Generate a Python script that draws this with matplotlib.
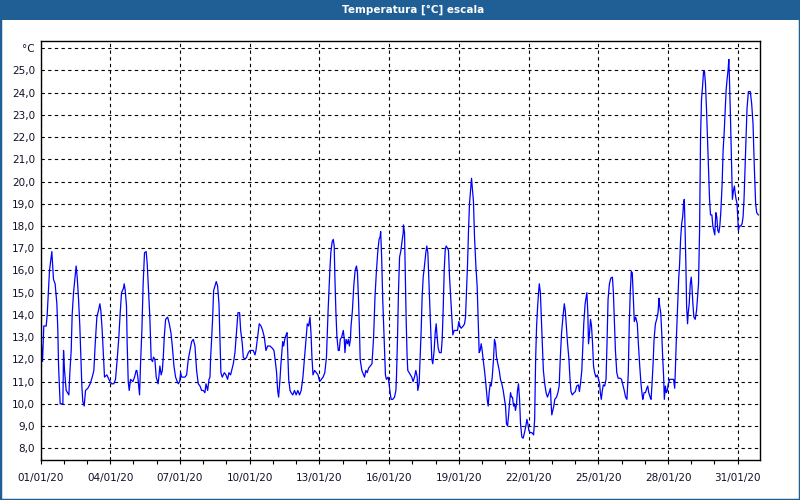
import matplotlib
matplotlib.use("Agg")
import matplotlib.pyplot as plt
import matplotlib.dates as mdates
from matplotlib.patches import Rectangle
import numpy as np
import pandas as pd

# hours since 01/01/20 00:00 and temperature (°C)
hours = [
    0, 2.1, 3.4, 5.9, 6.9, 9.3, 11.7, 13.4, 15.1, 16.9, 17.9, 18.6, 19.3, 20.3, 23.1, 23.8,
    24.8, 26.5, 29.3, 30.3, 31.7, 32.7, 34.1, 36.8, 37.9, 39.3, 40.6, 41.3, 42.0, 42.7, 43.7, 45.1,
    46.5, 48.9, 51.3, 53.4, 55.1, 56.5, 58.2, 59.9, 61.3, 62.3, 63.7, 65.1, 66.1, 68.5, 70.6, 73.0,
    75.7, 77.5, 79.2, 80.9, 82.3, 83.7, 85.7, 86.4, 87.5, 88.8, 89.5, 90.6, 91.6, 93.0, 95.4, 97.1,
    98.8, 99.5, 100.5, 102.3, 103.3, 104.7, 106.0, 107.4, 109.1, 110.2, 111.2, 112.9, 114.3, 115.7,
    116.7, 118.1, 119.5, 121.5, 123.3, 124.6,
    125.8, 126.8, 127.8, 129.2, 131.3, 133.0, 134.7, 136.1, 137.8, 139.5, 141.2, 142.3, 143.7,
    144.7, 145.7, 147.4, 149.2, 150.9, 152.6, 154.3, 156.1, 157.8, 159.5, 161.2, 162.9, 164.7,
    166.4, 168.1, 169.8, 170.9, 172.6, 174.0, 175.0, 175.7, 176.7, 177.7, 178.8, 180.2, 181.5,
    182.9, 184.3, 185.3, 186.3, 187.7, 189.8, 191.5, 193.2, 194.6, 196.3, 197.4, 199.1, 200.8,
    202.5, 203.9, 205.6, 206.7, 208.4, 209.4, 211.1, 212.9, 214.6, 216.3, 218.0, 219.7, 221.5,
    222.5, 224.2, 225.9, 227.7, 229.4, 231.1, 232.8, 234.6, 237.0, 239.4, 241.1, 242.8, 243.8,
    244.9, 245.9, 247.3, 248.3, 249.4,
    250.1, 251.1, 252.2, 253.6, 254.6, 255.3, 256.3, 257.7, 258.8, 260.5, 262.3, 264.0, 265.7,
    267.5, 269.2, 271.0, 272.7, 274.4, 275.5, 276.9, 278.3, 279.3, 280.3, 281.4, 283.1, 284.9,
    286.6, 288.3, 290.1, 291.8, 293.6, 295.3, 297.0, 298.8, 299.8, 301.2, 302.3, 303.3, 304.0,
    305.0, 306.1, 307.5, 308.5, 309.6, 311.0, 312.7, 313.7, 314.4, 315.5, 316.9, 317.9, 319.0,
    320.0, 320.7, 322.1, 323.5, 324.9, 326.3, 327.3, 328.3, 329.4, 330.1, 331.8, 333.6, 334.6,
    336.0, 337.4, 338.8, 340.5, 342.3, 344.0, 345.4, 346.8, 348.2, 349.6, 350.6, 351.3, 352.3,
    353.4, 354.8, 356.2, 357.2, 359.0, 360.0, 361.0, 362.1, 363.8, 365.6, 367.0, 367.6, 368.7,
    369.7, 370.8, 372.2, 373.6, 374.6,
    374.8, 375.9, 376.6, 377.6, 378.6, 379.3, 380.7, 382.1, 383.4, 384.8, 386.2, 387.6, 389.0,
    389.6, 391.0, 392.0, 393.1, 394.1, 395.2, 396.5, 397.9, 398.9, 400.0, 401.0, 402.0, 403.1,
    404.1, 405.1, 406.5, 407.6, 408.6, 409.6, 410.7, 412.0, 413.8, 414.8, 415.8, 416.9, 417.9,
    418.9, 420.3, 421.3, 422.4, 423.7, 424.8, 425.8, 427.2, 428.9, 430.6, 432.0, 433.0, 434.4,
    436.5, 437.9, 438.9, 439.9, 441.0, 442.0, 443.0, 444.4, 445.1, 446.1, 447.1, 448.2, 449.6,
    450.9, 452.0, 453.0, 454.0, 455.1, 456.1, 457.1, 458.5, 459.9, 461.3, 462.3, 463.3, 464.4,
    465.4, 466.5, 467.8, 468.8, 469.9, 470.9, 472.3, 473.7, 475.0, 476.4, 477.8, 479.2, 480.2,
    481.2, 482.3, 483.3, 484.3, 485.4, 486.4, 487.4, 488.5, 489.5, 490.5, 491.6, 492.6, 493.6,
    494.7, 495.7, 497.1,
    498.4, 499.8, 501.2, 502.3, 503.3, 504.3, 505.7, 507.5, 509.2, 510.3, 511.3, 512.3, 513.4,
    514.4, 515.1, 516.2, 517.2, 518.3, 519.3, 520.7, 522.1, 523.5, 525.2, 526.6, 527.3, 528.0,
    529.0, 530.1, 531.1, 532.9, 534.3, 535.6, 536.7, 538.1, 539.5, 540.9, 541.9, 543.0, 544.3,
    545.7, 546.8, 547.8, 549.2, 551.0, 552.3, 553.7, 555.5, 556.5, 557.6, 559.0, 560.0, 561.0,
    562.4, 564.2, 565.2, 565.9, 567.0, 568.0, 569.0, 570.1, 571.1, 572.2, 573.6, 575.0, 576.3,
    577.4, 578.1, 579.1, 580.2, 581.2, 582.6, 584.0, 585.0, 586.1, 587.5, 588.9, 590.6, 591.6,
    592.7, 593.7, 595.1, 596.5, 598.6, 600.0, 601.4, 602.8, 604.2, 605.6, 607.0, 608.0, 609.0,
    610.1, 611.1, 612.2, 613.2, 614.6, 616.3, 617.4, 618.8, 620.2, 621.6,
    622.0, 623.3, 624.7, 626.1, 627.1, 628.1, 629.5, 630.5, 631.5, 632.6, 633.6, 635.0, 636.3,
    637.7, 638.7, 639.4, 640.5, 641.5, 642.5, 643.5, 644.2, 645.3, 646.3, 647.3, 648.3, 649.7,
    651.1, 652.8, 653.8, 654.9, 655.5, 656.6, 657.9, 659.0, 660.0, 661.0, 662.1, 663.1, 664.1,
    664.8, 665.5, 666.5, 667.2, 668.2, 668.9, 669.9, 671.0, 672.0, 672.7, 673.7, 674.7, 676.1,
    677.5, 678.5, 679.5, 680.6, 681.6, 682.6, 683.7, 684.7, 685.7, 686.7, 687.8, 688.8, 689.8,
    690.9, 691.9, 693.3, 694.3, 695.3, 696.3, 697.4, 698.4, 699.4, 700.5, 701.5, 702.5, 703.9,
    704.9, 706.0, 707.0, 708.0, 709.0, 710.1, 710.8, 711.4, 712.5, 713.5, 714.5, 715.6, 716.6,
    717.3, 718.3, 719.3, 720.0, 720.7, 721.7, 723.1, 724.5, 725.5, 726.5, 727.6, 728.6, 729.6,
    731.0, 733.0, 734.4, 735.8, 737.1, 738.5, 739.6, 741.3,
]
temps = [
    13.3, 11.9, 13.5, 13.5, 14.0, 16.0, 16.85, 15.6, 15.4, 14.5, 13.3, 11.8, 11.0, 10.0, 10.0, 12.4,
    11.5, 10.6, 10.4, 11.4, 12.4, 14.0, 15.0, 16.2, 15.7, 14.7, 13.5, 12.6, 11.7, 10.8, 10.1, 9.9,
    10.6, 10.7, 10.9, 11.2, 11.5, 12.7, 13.9, 14.2, 14.5, 14.2, 13.3, 12.1, 11.2, 11.3, 11.1, 10.9,
    10.9, 11.1, 12.0, 13.0, 14.1, 15.0, 15.2, 15.4, 15.1, 14.4, 12.7, 11.0, 10.6, 11.1, 11.0, 11.2,
    11.5, 11.5, 11.2, 10.4, 11.8, 13.3, 15.4, 16.8, 16.85, 16.3, 15.4, 13.9, 12.0, 11.9,
    12.1, 12.0, 11.2, 10.9, 11.7, 11.3,
    11.5, 12.1, 13.0, 13.8, 13.9, 13.6, 13.2, 12.6, 11.7, 11.2, 11.0, 10.9, 11.0,
    11.4, 11.2, 11.2, 11.2, 11.3, 12.0, 12.4, 12.8, 12.9, 12.6, 11.5, 10.9, 10.8,
    10.6, 10.6, 10.5, 10.9, 10.6, 11.1, 11.2, 12.1, 12.9, 13.8, 15.1, 15.3, 15.5,
    15.3, 14.5, 13.0, 11.4, 11.2, 11.4, 11.3, 11.1, 11.4, 11.3, 11.5, 11.8, 12.3,
    13.3, 14.1, 14.1, 13.3, 12.7, 12.1, 12.0, 12.1, 12.3, 12.4, 12.4, 12.4, 12.2,
    12.4, 13.0, 13.6, 13.5, 13.3, 13.0, 12.4, 12.6, 12.6, 12.5, 12.4, 11.8, 11.4,
    10.6, 10.3, 11.1, 11.8, 12.4,
    12.8, 12.6, 12.9, 13.1, 13.2, 12.3, 11.1, 10.6, 10.5, 10.4, 10.6, 10.4, 10.6,
    10.4, 10.6, 11.2, 12.1, 13.0, 13.6, 13.5, 13.9, 13.2, 12.1, 11.3, 11.5, 11.4,
    11.3, 11.0, 11.1, 11.2, 11.4, 12.1, 14.2, 16.0, 16.8, 17.3, 17.4, 17.1, 15.7,
    14.2, 13.0, 12.4, 12.4, 12.9, 13.0, 13.3, 12.9, 12.3, 12.9, 12.7, 12.9, 12.6,
    12.9, 13.5, 14.2, 15.3, 16.0, 16.2, 15.9, 14.8, 13.3, 12.0, 11.5, 11.3, 11.2,
    11.5, 11.4, 11.6, 11.7, 11.8, 13.0, 14.8, 15.9, 16.8, 17.4, 17.5, 17.75, 16.6,
    14.7, 13.0, 11.3, 11.1, 11.2, 10.9, 10.5, 10.2, 10.2, 10.3, 10.6, 11.2, 13.0,
    15.1, 16.6, 16.9, 17.4, 17.7,
    18.05, 17.7, 16.0, 13.8, 12.1, 11.5, 11.4, 11.3, 11.2, 11.0, 11.2, 11.5, 11.2,
    10.6, 10.9, 12.1, 13.3, 14.8, 15.7, 16.2, 16.8, 17.1, 16.8, 15.6, 14.4, 13.0,
    12.0, 11.8, 12.4, 13.2, 13.6, 13.0, 12.5, 12.3, 12.3, 12.9, 14.2, 16.0, 16.9,
    17.1, 17.0, 16.9, 15.7, 14.7, 13.8, 13.1, 13.3, 13.3, 13.3, 13.7, 13.5, 13.4,
    13.5, 13.6, 13.9, 15.1, 16.3, 17.8, 19.0, 19.8, 20.15, 19.6, 19.1, 17.5, 16.2,
    15.3, 13.8, 12.3, 12.4, 12.7, 12.4, 12.0, 11.5, 10.9, 10.2, 9.9, 10.5, 10.9,
    10.8, 11.2, 12.0, 12.9, 12.7, 12.1, 11.8, 11.5, 11.1, 10.9, 10.6, 10.2, 9.9,
    9.1, 9.0, 9.45, 10.0, 10.5, 10.3, 10.3, 9.9, 10.0, 9.7, 10.0, 10.6, 10.9,
    10.2, 9.1, 8.5,
    8.45, 8.7, 9.0, 9.3, 9.1, 8.8, 8.7, 8.7, 8.6, 9.3, 12.0, 13.5, 14.4,
    15.05, 15.4, 15.0, 13.8, 12.6, 11.5, 10.9, 10.5, 10.3, 10.5, 10.7, 10.0, 9.5,
    9.7, 9.9, 10.2, 10.3, 10.5, 10.8, 12.0, 13.2, 13.9, 14.5, 14.2, 13.5, 12.7,
    12.0, 11.1, 10.55, 10.4, 10.5, 10.55, 10.8, 10.85, 10.55, 10.9, 11.5, 12.6, 13.6,
    14.5, 15.0, 14.1, 12.7, 13.2, 13.8, 13.5, 12.7, 11.7, 11.4, 11.2, 11.3, 11.1,
    10.9, 10.5, 10.2, 10.6, 10.85, 10.8, 11.1, 12.7, 14.7, 15.4, 15.65, 15.7, 15.0,
    13.6, 12.4, 11.4, 11.15, 11.15, 11.1, 10.85, 10.6, 10.3, 10.2, 11.4, 13.6, 15.0,
    15.95, 15.9, 14.7, 13.7, 13.9, 13.6, 12.7, 11.7, 10.85, 10.3,
    10.2, 10.5, 10.5, 10.7, 10.8, 10.5, 10.3, 10.2, 10.9, 11.8, 12.9, 13.6, 13.8,
    14.1, 14.75, 14.4, 14.1, 13.2, 12.1, 11.2, 10.2, 10.8, 10.5, 10.6, 10.9, 11.1,
    11.1, 11.1, 11.1, 10.7, 11.4, 12.9, 14.4, 15.6, 16.3, 17.4, 18.1, 18.4, 19.0,
    19.2, 18.1, 16.2, 14.4, 13.6, 14.1, 14.5, 15.4, 15.7, 15.3, 14.5, 13.9, 13.8,
    14.2, 14.8, 15.4, 17.8, 22.0, 23.7, 24.3, 24.95, 24.95, 24.4, 23.2, 21.9, 20.7,
    19.2, 18.5, 18.5, 18.0, 17.8, 17.6, 18.6, 18.4, 17.8, 17.7, 18.0, 18.6, 19.9,
    21.4, 22.2, 23.2, 24.1, 24.6, 25.05, 25.5, 24.7, 22.9, 21.0, 19.2, 19.6, 19.8,
    19.5, 19.2, 19.0, 18.4, 17.8, 18.0, 18.0, 18.1, 18.4, 19.2, 20.7, 22.2, 23.3,
    24.05, 24.05, 23.5, 22.6, 20.7, 19.0, 18.6, 18.5,
]

title = "Temperatura [°C] escala"
start = pd.Timestamp("2020-01-01")
y_ticks = list(range(8, 27))
y_labels = ["%d,0" % v for v in y_ticks[:-1]] + ["°C"]

bar_color = "#1f5f96"
text_color = "#10102a"

times = start + pd.to_timedelta(np.array(hours), unit="h")

fig = plt.figure(figsize=(8, 5), dpi=100)
fig.patch.set_facecolor("white")

# window frame + title bar
fig.patches.append(Rectangle((0, 0), 1, 1, transform=fig.transFigure,
                             fill=False, edgecolor=bar_color, linewidth=2.5, zorder=0))
fig.patches.append(Rectangle((0, 1 - 20 / 500), 1, 20 / 500, transform=fig.transFigure,
                             facecolor=bar_color, edgecolor="none", zorder=1))
fig.text(413 / 800, 1 - 10 / 500, title, color="white", fontsize=7.5, fontweight="bold",
         family="DejaVu Sans", ha="center", va="center")

ax = fig.add_axes([40.5 / 800, 40 / 500, (760 - 40.5) / 800, (460 - 40.7) / 500])
ax.plot(times, temps, color="#0000ff", linewidth=0.9)

ax.set_xlim(start, start + pd.Timedelta(hours=743))
ax.set_ylim(7.47, 26.34)

ax.xaxis.set_major_locator(mdates.DayLocator(bymonthday=range(1, 32, 3)))
ax.xaxis.set_minor_locator(mdates.DayLocator())
ax.xaxis.set_major_formatter(mdates.DateFormatter("%d/%m/%y"))
ax.set_yticks(y_ticks)
ax.set_yticklabels(y_labels)

ax.grid(True, which="major", color="black", linestyle=(0, (3, 3)), linewidth=0.8)
for s in ax.spines.values():
    s.set_color("black")
    s.set_linewidth(1)

ax.tick_params(axis="x", which="both", length=3, width=0.8, direction="out",
               labelsize=7.5, labelcolor=text_color, pad=6)
ax.tick_params(axis="y", length=0, labelsize=7.5, labelcolor=text_color, pad=4)

fig.savefig("out.png", dpi=100)
